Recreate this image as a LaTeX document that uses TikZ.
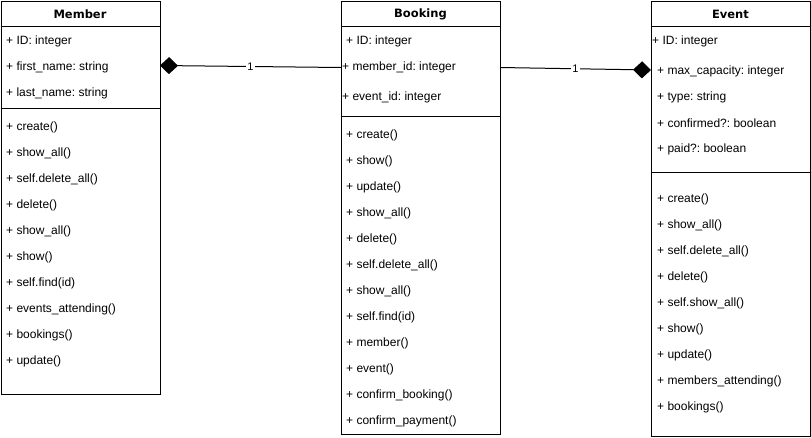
\documentclass[tikz,border=0pt]{standalone}
\usepackage{fontspec}
\setmainfont{Liberation Sans}
\newfontfamily\titlefont{DejaVu Sans}
\usetikzlibrary{arrows.meta}
\frenchspacing
\begin{document}
\begin{tikzpicture}[x=1pt,y=-1pt,
  box/.style={draw=black,line width=1pt,fill=white,anchor=north west,inner sep=0pt},
  sep/.style={draw=black,line width=1pt},
  title/.style={font=\titlefont\bfseries\fontsize{11.5}{14}\selectfont,inner sep=0pt,anchor=center},
  item/.style={font=\fontsize{12}{14}\selectfont,inner sep=0pt,anchor=west},
  conn/.style={draw=black,line width=1pt},
  mult/.style={fill=white,inner sep=1pt,font=\fontsize{11}{13}\selectfont},
  diatip/.tip={Diamond[length=18pt,width=17pt]}
]
\useasboundingbox (0,0) rectangle (811,437);
% Member
\node[box,minimum width=159.5pt,minimum height=393.5pt] (member) at (0.5,0.5) {};
\draw[sep] (0.5,26) -- (160,26);
\draw[sep] (0.5,108) -- (160,108);
\node[title] (memberT) at (80,14.5) {Member};
\foreach \t [count=\i from 0] in {+ ID: integer,+ first\_name: string,+ last\_name: string}
  \node[item] (ma\i) at (6,{41.5+26*\i}) {\t};
\foreach \t [count=\i from 0] in {+ create(),+ show\_all(),+ self.delete\_all(),+ delete(),+ show\_all(),+ show(),+ self.find(id),+ events\_attending(),+ bookings(),+ update()}
  \node[item] (mm\i) at (6,{127.5+26*\i}) {\t};
% Booking
\node[box,minimum width=159pt,minimum height=433pt] (booking) at (341,0.5) {};
\draw[sep] (341,26) -- (500,26);
\draw[sep] (341,116) -- (500,116);
\node[title] (bookingT) at (420.5,14.5) {Booking};
\node[item] (ba0) at (346,41.5) {+ ID: integer};
\node[item] (ba1) at (342,67.5) {+ member\_id: integer};
\node[item] (ba2) at (342,97.5) {+ event\_id: integer};
\foreach \t [count=\i from 0] in {+ create(),+ show(),+ update(),+ show\_all(),+ delete(),+ self.delete\_all(),+ show\_all(),+ self.find(id),+ member(),+ event(),+ confirm\_booking(),+ confirm\_payment()}
  \node[item] (bm\i) at (346,{135.5+26*\i}) {\t};
% Event
\node[box,minimum width=159pt,minimum height=435.5pt] (event) at (651,0.5) {};
\draw[sep] (651,26) -- (810,26);
\draw[sep] (651,172) -- (810,172);
\node[title] (eventT) at (730.5,14.5) {Event};
\node[item] (ea0) at (652,41.5) {+ ID: integer};
\node[item] (ea1) at (657,71.5) {+ max\_capacity: integer};
\node[item] (ea2) at (657,97.5) {+ type: string};
\node[item] (ea3) at (657,123.5) {+ confirmed?: boolean};
\node[item] (ea4) at (657,149.5) {+ paid?: boolean};
\foreach \t [count=\i from 0] in {+ create(),+ show\_all(),+ self.delete\_all(),+ delete(),+ self.show\_all(),+ show(),+ update(),+ members\_attending(),+ bookings()}
  \node[item] (em\i) at (657,{199.5+26*\i}) {\t};
% connectors
\coordinate (m1) at (160,65.5);
\coordinate (b1) at (341,67.5);
\coordinate (b2) at (500,67.5);
\coordinate (e2) at (651,70);
\draw[conn,{diatip}-] (m1) -- node[mult] (l1) {1} (b1);
\draw[conn,-{diatip}] (b2) -- node[mult] (l2) {1} (e2);
\end{tikzpicture}
\end{document}
